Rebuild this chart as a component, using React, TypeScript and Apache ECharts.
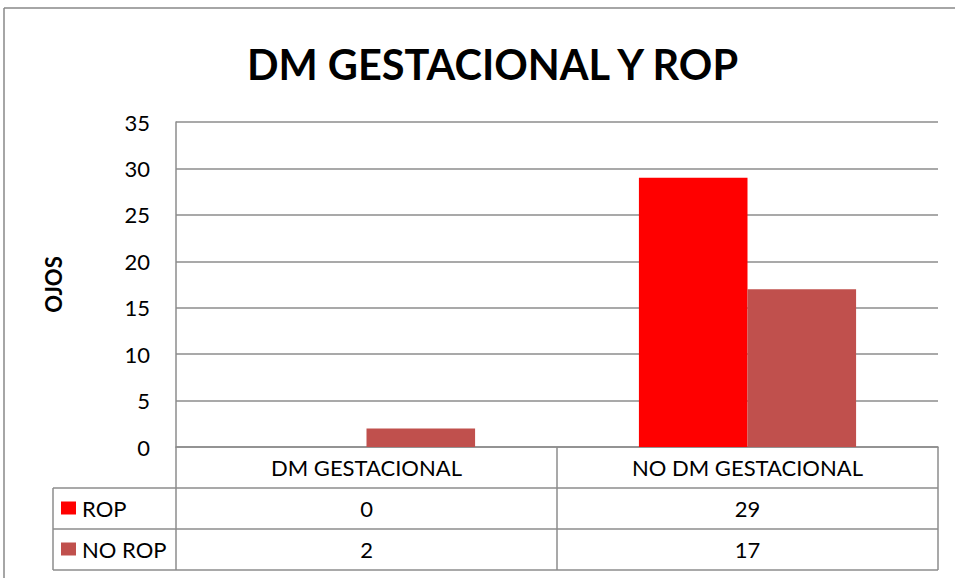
import React, { useEffect, useRef } from "react";
import * as echarts from "echarts";

const categories = ["DM GESTACIONAL", "NO DM GESTACIONAL"];
const seriesNames = ["ROP", "NO ROP"];
const ropValues = [0, 29];
const noRopValues = [2, 17];
const seriesColors = ["#FF0000", "#C0504D"];
const titleText = "DM GESTACIONAL Y ROP";
const yAxisName = "OJOS";

const FONT = "Lato, 'Open Sans', sans-serif";
const W = 955;
const H = 578;
const GRID = { left: 176, right: 17, top: 122, bottom: 131 };
const LINE = "#8C8C8C";

export default function App() {
  const ref = useRef<HTMLDivElement>(null);
  useEffect(() => {
    if (!ref.current) return;
    const chart = echarts.init(ref.current, undefined, { renderer: "svg" });
    const x0 = GRID.left;
    const x1 = W - GRID.right;
    const yAxis = H - GRID.bottom;
    const rowH = 41;
    const tableLeft = 53;
    const r1 = yAxis + rowH;
    const r2 = r1 + rowH;
    const r3 = r2 + rowH;
    const colW = (x1 - x0) / categories.length;
    const values = [ropValues, noRopValues];

    const g: any[] = [];
    g.push({ type: "line", shape: { x1: 4, y1: 8, x2: W + 5, y2: 8 }, style: { stroke: "#888", lineWidth: 1.5 } });
    g.push({ type: "line", shape: { x1: 4, y1: 8, x2: 4, y2: H + 5 }, style: { stroke: "#888", lineWidth: 1.5 } });
    [r1, r2, r3].forEach((y) => {
      g.push({ type: "line", shape: { x1: tableLeft, y1: y, x2: x1, y2: y }, style: { stroke: LINE, lineWidth: 1.5 } });
    });
    for (let i = 0; i <= categories.length; i++) {
      const x = x0 + i * colW;
      g.push({ type: "line", shape: { x1: x, y1: yAxis, x2: x, y2: r3 }, style: { stroke: LINE, lineWidth: 1.5 } });
    }
    g.push({ type: "line", shape: { x1: tableLeft, y1: r1, x2: tableLeft, y2: r3 }, style: { stroke: LINE, lineWidth: 1.5 } });
    seriesNames.forEach((name, si) => {
      const top = r1 + si * rowH;
      const cy = top + rowH / 2;
      g.push({ type: "rect", shape: { x: 61, y: cy - 7, width: 15, height: 13 }, style: { fill: seriesColors[si] } });
      g.push({
        type: "text",
        x: 82,
        y: cy,
        style: { text: name, font: `22px ${FONT}`, fill: "#000", verticalAlign: "middle", align: "left" },
      });
      values[si].forEach((v, ci) => {
        g.push({
          type: "text",
          x: x0 + colW * (ci + 0.5),
          y: cy,
          style: { text: String(v), font: `22px ${FONT}`, fill: "#000", verticalAlign: "middle", align: "center" },
        });
      });
    });

    chart.setOption({
      animation: false,
      title: {
        text: titleText,
        left: 242,
        top: 38,
        textStyle: { fontFamily: FONT, fontWeight: "bold", fontSize: 41.5, color: "#000" },
      },
      grid: { left: GRID.left, right: GRID.right, top: GRID.top, bottom: GRID.bottom, containLabel: false },
      xAxis: {
        type: "category",
        data: categories,
        axisLine: { show: true, lineStyle: { color: LINE, width: 1.5 } },
        axisTick: { show: false },
        axisLabel: { margin: 20, verticalAlign: "middle", fontFamily: FONT, fontSize: 22, color: "#000" },
        splitLine: { show: false },
      },
      yAxis: {
        type: "value",
        min: 0,
        max: 35,
        interval: 5,
        name: yAxisName,
        nameLocation: "middle",
        nameRotate: 90,
        nameGap: 112,
        nameTextStyle: { fontFamily: FONT, fontWeight: "bold", fontSize: 22, color: "#000" },
        axisLine: { show: true, lineStyle: { color: LINE, width: 1.5 } },
        axisTick: { show: false },
        axisLabel: { margin: 26, fontFamily: FONT, fontSize: 22, color: "#000" },
        splitLine: { show: true, lineStyle: { color: LINE, width: 1.5 } },
      },
      series: [
        {
          name: seriesNames[0],
          type: "bar",
          data: ropValues,
          itemStyle: { color: seriesColors[0] },
          barGap: "0%",
          barCategoryGap: "43%",
        },
        {
          name: seriesNames[1],
          type: "bar",
          data: noRopValues,
          itemStyle: { color: seriesColors[1] },
          barGap: "0%",
          barCategoryGap: "43%",
        },
      ],
      graphic: g,
    });
    return () => chart.dispose();
  }, []);
  return (
    <div
      ref={ref}
      style={{ position: "fixed", left: 0, top: 0, width: W, height: H, background: "#fff" }}
    />
  );
}
